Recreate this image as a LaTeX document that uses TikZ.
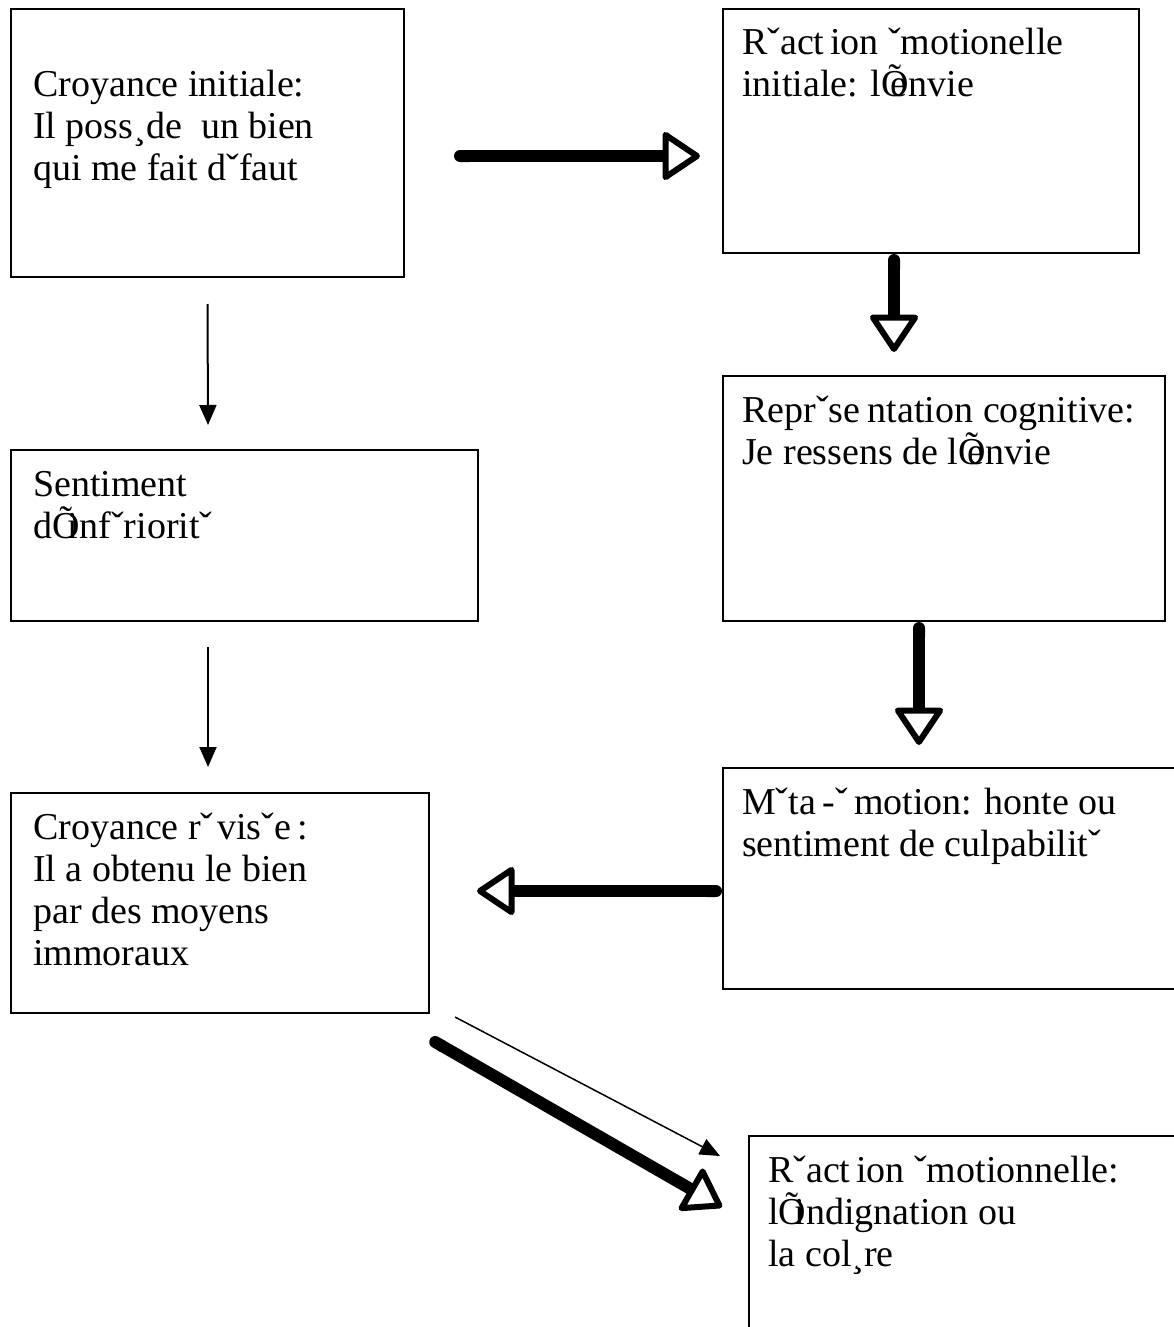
\documentclass[tikz,border=0pt]{standalone}
\usepackage{fontspec}
\setmainfont{Liberation Serif}
\usetikzlibrary{arrows.meta}
\newcommand{\OtOver}[1]{\rlap{Õ}\makebox[0.72em][r]{#1\kern0.04em}}
\begin{document}
\begin{tikzpicture}[x=1pt,y=-1pt,
  box/.style={draw, line width=2pt, rectangle, inner sep=0pt, anchor=north west},
  txt/.style={anchor=base west, inner sep=0pt, font=\fontsize{38pt}{42pt}\selectfont},
  thinarrow/.style={line width=2pt, -{Triangle[length=20pt,width=17pt]}},
  thickarrow/.style={line width=12pt, {Round Cap}-{Triangle[open,length=40pt,width=52pt,line width=6pt,round]}},
]
\useasboundingbox (0,0) rectangle (1174,1327);
\clip (0,0) rectangle (1174,1327);

% boxes
\node[box, minimum width=393pt, minimum height=268pt] (b1) at (10,8) {};
\node[box, minimum width=416pt, minimum height=244pt] (b2) at (722,8) {};
\node[box, minimum width=442pt, minimum height=245pt] (b3) at (722,375) {};
\node[box, minimum width=467pt, minimum height=171pt] (b4) at (10,449) {};
\node[box, minimum width=460pt, minimum height=221pt] (b5) at (722,767) {};
\node[box, minimum width=418pt, minimum height=220pt] (b6) at (10,792) {};
\node[box, minimum width=440pt, minimum height=200pt] (b7) at (748,1135) {};

% texts
\node[txt] (t1) at ([xshift=23pt,yshift=-89pt]b1.north west)
  {\parbox[t]{370pt}{\raggedright Croyance initiale:\\Il poss¸de\ \ un bien\\qui me fait dˇfaut}};
\node[txt] (t2) at ([xshift=20pt,yshift=-47pt]b2.north west)
  {\parbox[t]{400pt}{\raggedright Rˇact\kern.15em ion ˇmotionelle\\initiale: l\OtOver{e}nvie}};
\node[txt] (t3) at ([xshift=20pt,yshift=-47pt]b3.north west)
  {\parbox[t]{440pt}{\raggedright Reprˇse\kern.2em ntation cognitive:\\Je ressens de l\OtOver{e}nvie}};
\node[txt] (t4) at ([xshift=23pt,yshift=-47pt]b4.north west)
  {\parbox[t]{440pt}{\raggedright Sentiment\\d\OtOver{i}nfˇrioritˇ}};
\node[txt] (t5) at ([xshift=20pt,yshift=-47pt]b5.north west)
  {\parbox[t]{440pt}{\raggedright Mˇta\,-ˇ\,motion: honte ou\\sentiment de culpabilitˇ}};
\node[txt] (t6) at ([xshift=23pt,yshift=-47pt]b6.north west)
  {\parbox[t]{400pt}{\raggedright Croyance rˇ\kern.1em visˇe\,:\\Il a obtenu le bien\\par des moyens\\immoraux}};
\node[txt] (t7) at ([xshift=20pt,yshift=-47pt]b7.north west)
  {\parbox[t]{420pt}{\raggedright Rˇact\kern.15em ion ˇmotionnelle:\\l\OtOver{i}ndignation ou\\la col¸re}};

% thick arrows
\draw[thickarrow] ([xshift=49pt,yshift=-13pt]b1.east) -- ([xshift=-22pt,yshift=-25pt]b2.west);
\draw[thickarrow] ([xshift=-37pt]b2.south) -- ([xshift=-50pt,yshift=23pt]b3.north);
\draw[thickarrow] ([xshift=-25pt]b3.south) -- ([xshift=-34pt,yshift=22pt]b5.north);
\draw[thickarrow] ([yshift=-12.5pt]b5.west) -- ([xshift=47pt,yshift=12pt]b6.east);
\draw[thickarrow] ([yshift=-25pt]b6.south east) -- ([xshift=-26pt,yshift=-72pt]b7.north west);

% thin arrows
\draw[thinarrow] ([yshift=-26pt]b1.south) -- ([xshift=-36.5pt,yshift=24pt]b4.north);
\draw[thinarrow] ([xshift=-36.5pt,yshift=-25pt]b4.south) -- ([xshift=-12pt,yshift=25pt]b6.north);
\draw[thinarrow, line width=1.5pt] ([xshift=25pt,yshift=-3pt]b6.south east) -- ([xshift=-28pt,yshift=-21pt]b7.north west);
\end{tikzpicture}
\end{document}
